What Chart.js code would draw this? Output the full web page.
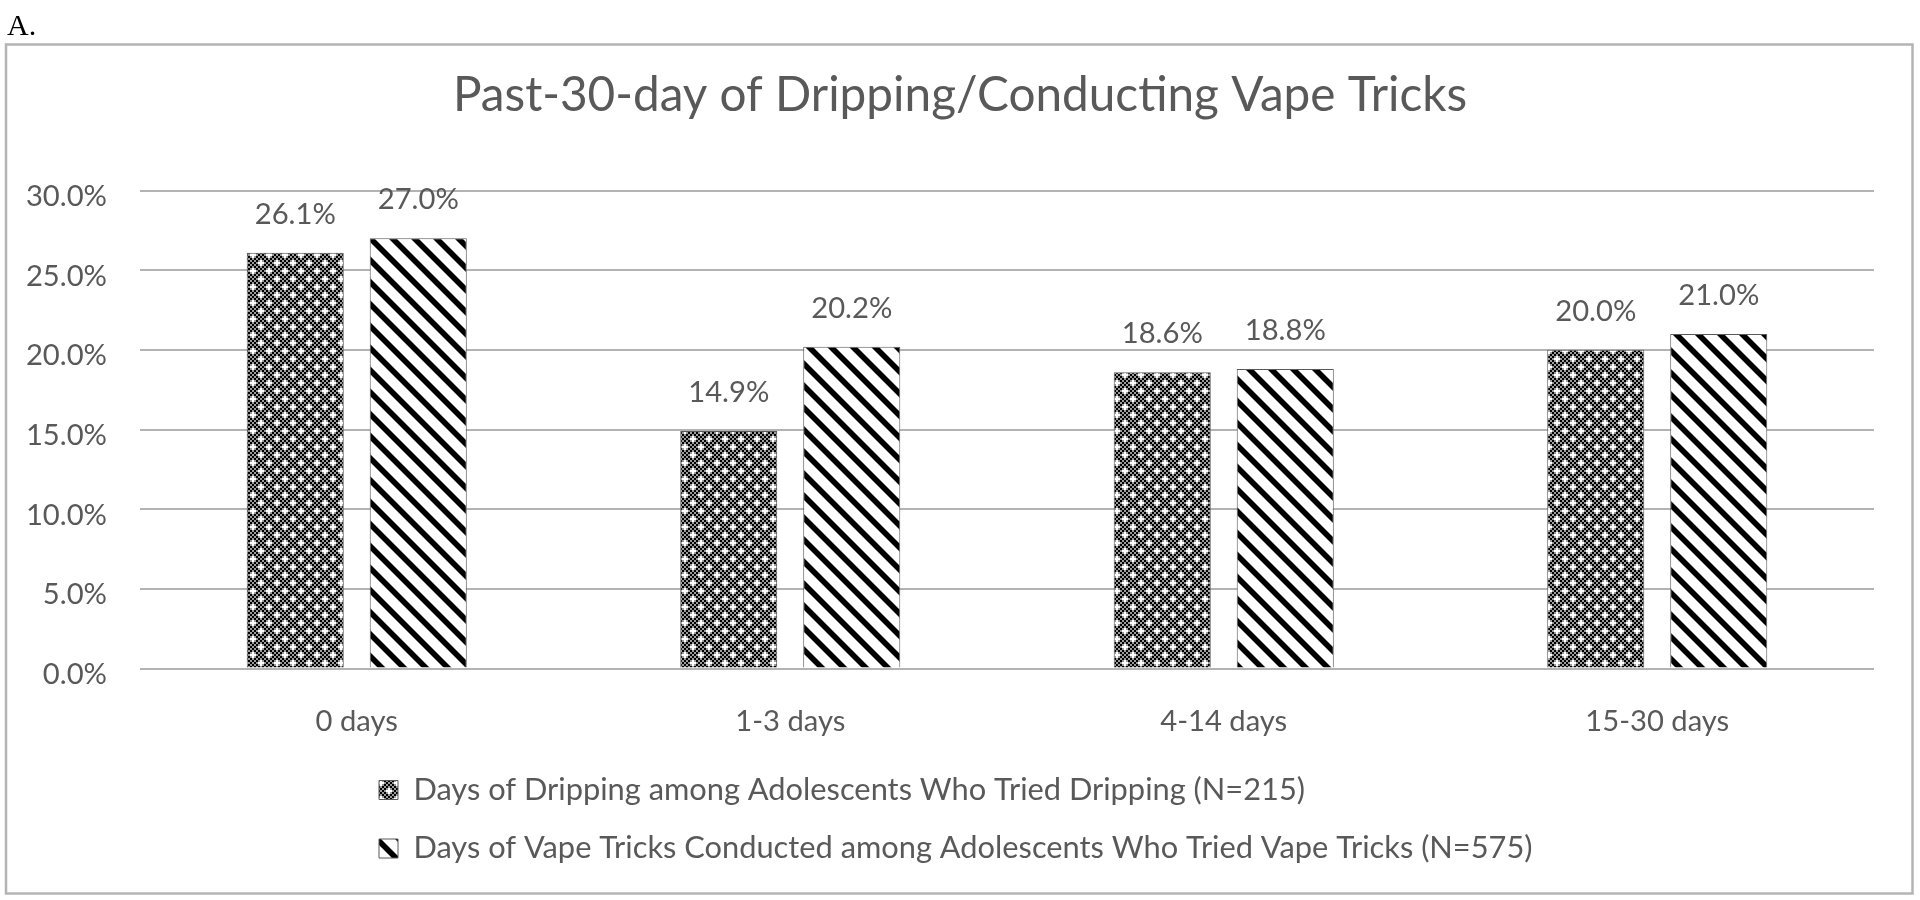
<!DOCTYPE html>
<html>
<head>
<meta charset="utf-8">
<script src="https://cdn.jsdelivr.net/npm/chart.js@4.4.1/dist/chart.umd.min.js"></script>
<style>
  html, body { margin: 0; padding: 0; background: #ffffff; }
  #wrap { width: 1920px; height: 900px; position: relative; }
</style>
</head>
<body>
<div id="wrap"><canvas id="c" width="1920" height="900"></canvas></div>
<script>
// ---------------- data ----------------
const panelLabel = 'A.';
const chartTitle = 'Past-30-day of Dripping/Conducting Vape Tricks';
const categories = ['0 days', '1-3 days', '4-14 days', '15-30 days'];
const seriesNames = [
  'Days of Dripping among Adolescents Who Tried Dripping (N=215)',
  'Days of Vape Tricks Conducted among Adolescents Who Tried Vape Tricks (N=575)'
];
const drippingValues = [26.1, 14.9, 18.6, 20.0];
const vapeTrickValues = [27.0, 20.2, 18.8, 21.0];
const yTicks = [0, 5, 10, 15, 20, 25, 30];

// ---------------- styling helpers ----------------
const FONT = 'Lato';
const TEXT = '#595959';
const GRID = '#b3b3b3';

function fitSize(text, targetWidth) {
  const g = document.createElement('canvas').getContext('2d');
  g.font = '100px ' + FONT;
  return Math.round(100 * targetWidth / g.measureText(text).width * 10) / 10;
}
const TITLE_SIZE = fitSize(chartTitle, 1014);
const TICK_SIZE = fitSize('30.0%', 81);
const LEG_SIZE = fitSize(seriesNames[0], 892);

function checkerPattern() {
  const c = document.createElement('canvas');
  c.width = 16; c.height = 16;
  const g = c.getContext('2d');
  g.fillStyle = '#000'; g.fillRect(0, 0, 16, 16);
  g.fillStyle = '#9a9a9a';
  for (let i = 0; i < 8; i++) for (let j = 0; j < 8; j++) if ((i + j) % 2 === 1) g.fillRect(i * 2, j * 2, 2, 2);
  g.fillStyle = '#fff';
  [[2, 3], [6, 7]].forEach(([ci, cj]) => {
    [[0, 0], [1, 0], [-1, 0], [0, 1], [0, -1]].forEach(([di, dj]) => {
      const x = ((ci + di + 8) % 8) * 2, y = ((cj + dj + 8) % 8) * 2;
      g.fillRect(x, y, 2, 2);
    });
  });
  return g.createPattern(c, 'repeat');
}
function stripePattern() {
  const s = 22;
  const c = document.createElement('canvas');
  c.width = s; c.height = s;
  const g = c.getContext('2d');
  g.fillStyle = '#fff'; g.fillRect(0, 0, s, s);
  g.strokeStyle = '#000'; g.lineWidth = 5.7;
  for (let k = -1; k <= 1; k++) {
    g.beginPath(); g.moveTo(k * s - 3, -3); g.lineTo(k * s + s + 3, s + 3); g.stroke();
  }
  return g.createPattern(c, 'repeat');
}

// layout targets
const AREA_TOP = 190.5, AREA_BOTTOM = 668.5, AREA_LEFT = 140, AREA_RIGHT = 1874;
const TITLE_MID = 95.5;
const XLABEL_MID = 721.5;
const LEG_ROW_STEP = 58.5, LEG_PAD = LEG_ROW_STEP - LEG_SIZE;
const LEG_BOX = 19, LEG_BOX_X = 379, LEG_ROW1_MID = 790;
const LEG_H = 2 * LEG_ROW_STEP + 10;
const titlePadTop = TITLE_MID - 0.6 * TITLE_SIZE;
const titlePadBottom = AREA_TOP - titlePadTop - 1.2 * TITLE_SIZE;

const framePlugin = {
  id: 'frame',
  beforeDraw(chart) {
    const ctx = chart.ctx;
    ctx.save();
    ctx.strokeStyle = '#b4b4b4';
    ctx.lineWidth = 2.5;
    ctx.strokeRect(6, 44.5, 1906.5, 849);
    ctx.fillStyle = '#000';
    ctx.font = '30px "Liberation Serif"';
    ctx.textBaseline = 'alphabetic';
    ctx.textAlign = 'left';
    ctx.fillText(panelLabel, 7, 35);
    ctx.restore();
  }
};

const placeBlocks = {
  id: 'placeBlocks',
  afterLayout(chart) {
    const tb = chart.titleBlock;
    if (tb) { tb.left = 0; tb.right = chart.width; tb.width = chart.width; }
    const lg = chart.legend;
    if (lg) {
      lg.left = LEG_BOX_X - LEG_PAD;
      lg.top = LEG_ROW1_MID - LEG_PAD - LEG_SIZE / 2;
    }
  }
};

const valueLabels = {
  id: 'valueLabels',
  afterDatasetsDraw(chart) {
    const ctx = chart.ctx;
    ctx.save();
    ctx.fillStyle = TEXT;
    ctx.font = TICK_SIZE + 'px ' + FONT;
    ctx.textAlign = 'center';
    ctx.textBaseline = 'middle';
    chart.data.datasets.forEach((ds, i) => {
      chart.getDatasetMeta(i).data.forEach((bar, j) => {
        ctx.fillText(ds.data[j].toFixed(1) + '%', bar.x, bar.y - 38.5);
      });
    });
    ctx.restore();
  }
};

new Chart(document.getElementById('c'), {
  type: 'bar',
  data: {
    labels: categories,
    datasets: [
      { label: seriesNames[0], data: drippingValues, backgroundColor: checkerPattern(), borderColor: '#595959', borderWidth: 1 },
      { label: seriesNames[1], data: vapeTrickValues, backgroundColor: stripePattern(), borderColor: '#595959', borderWidth: 1 }
    ]
  },
  options: {
    responsive: false,
    animation: false,
    layout: { padding: { left: 0, right: 1920 - AREA_RIGHT, top: 0, bottom: 0 } },
    datasets: { bar: { categoryPercentage: 0.5675, barPercentage: 0.789 } },
    plugins: {
      tooltip: { enabled: false },
      title: {
        display: true,
        text: chartTitle,
        color: TEXT,
        font: { family: FONT, size: TITLE_SIZE, weight: 'normal' },
        padding: { top: titlePadTop, bottom: titlePadBottom }
      },
      legend: {
        display: true,
        position: 'bottom',
        align: 'start',
        labels: {
          boxWidth: LEG_BOX, boxHeight: LEG_BOX,
          padding: LEG_PAD,
          color: TEXT,
          font: { family: FONT, size: LEG_SIZE }
        }
      }
    },
    scales: {
      x: {
        grid: { display: false, drawTicks: false },
        border: { display: false },
        ticks: {
          color: TEXT,
          font: { family: FONT, size: TICK_SIZE },
          padding: XLABEL_MID - AREA_BOTTOM - 0.6 * TICK_SIZE,
          maxRotation: 0
        },
        afterFit(scale) { scale.height = 900 - AREA_BOTTOM - LEG_H; }
      },
      y: {
        min: yTicks[0],
        max: yTicks[yTicks.length - 1],
        grid: { color: GRID, lineWidth: 2, drawTicks: false },
        border: { display: false },
        ticks: {
          stepSize: yTicks[1] - yTicks[0],
          color: TEXT,
          font: { family: FONT, size: TICK_SIZE },
          padding: 33,
          labelOffset: 6,
          callback: (v) => Number(v).toFixed(1) + '%'
        },
        afterFit(scale) { scale.width = AREA_LEFT; }
      }
    }
  },
  plugins: [framePlugin, placeBlocks, valueLabels]
});
</script>
</body>
</html>
